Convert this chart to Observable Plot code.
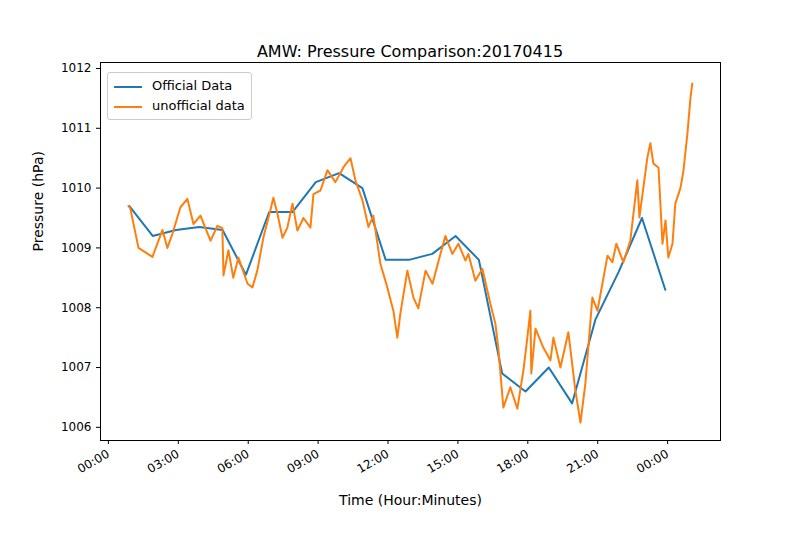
<!DOCTYPE html>
<html><head><meta charset="utf-8">
<script src="https://cdn.jsdelivr.net/npm/d3@7"></script>
<script src="https://cdn.jsdelivr.net/npm/@observablehq/plot@0.6"></script>
<style>
body{margin:0;background:#fff;font-family:"DejaVu Sans",sans-serif}
#wrap{position:relative;width:800px;height:550px}
#title{position:absolute;top:42px;left:100px;width:620px;text-align:center;font-size:16px}
#legend{position:absolute;left:107px;top:72px;border:1px solid #ccc;border-radius:3px;padding:3px 6px;font-size:13px;background:#fff;line-height:20px}
#legend span{display:inline-block;width:28px;height:2px;vertical-align:middle;margin-right:10px}
</style></head><body>
<div id="wrap"><div id="chart"></div><div id="title">AMW: Pressure Comparison:20170415</div>
<div id="legend"><div><span style="background:#1f77b4"></span>Official Data</div><div><span style="background:#ff7f0e"></span>unofficial data</div></div></div>
<script>
// official hourly readings, hours since midnight
const officialHours = [0.9,1.9,2.9,3.9,4.9,5.9,6.9,7.9,8.9,9.9,10.9,11.9,12.9,13.9,14.9,15.9,16.9,17.9,18.9,19.9,20.9,21.9,22.9,23.9];
const officialValues = [1009.7,1009.2,1009.3,1009.35,1009.3,1008.55,1009.6,1009.6,1010.1,1010.25,1010.0,1008.8,1008.8,1008.9,1009.2,1008.8,1006.9,1006.6,1007.0,1006.4,1007.8,1008.6,1009.5,1008.3];
// unofficial station trace
const unofficialHours = [0.86,0.94,1.29,1.89,2.32,2.53,2.75,3.09,3.39,3.65,3.95,4.38,4.68,4.89,4.94,5.15,5.36,5.58,5.97,6.18,6.39,6.65,6.95,7.08,7.25,7.47,7.68,7.9,8.11,8.37,8.67,8.8,9.1,9.4,9.74,10.09,10.39,10.6,10.9,11.16,11.37,11.67,11.97,12.23,12.4,12.53,12.83,13.09,13.3,13.61,13.91,14.25,14.46,14.76,15.02,15.32,15.45,15.75,16.05,16.39,16.61,16.74,16.95,17.25,17.55,17.81,17.98,18.11,18.15,18.33,18.67,18.97,19.1,19.4,19.74,20.04,20.26,20.47,20.77,20.99,21.42,21.63,21.8,22.1,22.4,22.7,22.79,23.13,23.26,23.39,23.61,23.78,23.91,24.03,24.21,24.33,24.55,24.68,24.85,24.98,25.06];
const unofficialValues = [1009.7,1009.66,1009.0,1008.85,1009.3,1009.0,1009.24,1009.68,1009.82,1009.4,1009.54,1009.12,1009.37,1009.33,1008.54,1008.96,1008.5,1008.84,1008.4,1008.34,1008.62,1009.17,1009.63,1009.84,1009.58,1009.17,1009.34,1009.74,1009.29,1009.5,1009.34,1009.9,1009.96,1010.3,1010.1,1010.35,1010.5,1010.13,1009.8,1009.35,1009.54,1008.74,1008.34,1007.95,1007.5,1007.9,1008.62,1008.17,1007.99,1008.62,1008.4,1008.9,1009.2,1008.9,1009.07,1008.79,1008.9,1008.45,1008.65,1008.07,1007.73,1007.3,1006.33,1006.67,1006.31,1006.95,1007.5,1007.95,1006.9,1007.65,1007.33,1007.12,1007.5,1007.0,1007.59,1006.62,1006.08,1006.73,1008.17,1007.95,1008.87,1008.76,1009.07,1008.76,1009.12,1010.13,1009.51,1010.51,1010.75,1010.41,1010.34,1009.07,1009.46,1008.84,1009.07,1009.74,1010.0,1010.29,1010.91,1011.51,1011.75];
const yTicks = [1006,1007,1008,1009,1010,1011,1012];

const base = new Date(2017, 3, 15);
const at = (h) => new Date(base.getTime() + h * 3600e3);
const official = officialHours.map((h, i) => ({t: at(h), v: officialValues[i]}));
const unofficial = unofficialHours.map((h, i) => ({t: at(h), v: unofficialValues[i]}));
const xTicks = d3.range(0, 25, 3).map(at);

const fig = Plot.plot({
  width: 800, height: 550,
  marginLeft: 100, marginRight: 80, marginTop: 62, marginBottom: 110,
  style: {fontFamily: "DejaVu Sans", fontSize: "12px", color: "#000"},
  x: {type: "time", domain: [at(-0.34), at(26.27)], ticks: xTicks, tickFormat: d3.timeFormat("%H:%M"), tickRotate: -30, tickSize: 4, label: null},
  y: {domain: [1005.78, 1012.1], ticks: yTicks, tickFormat: d => String(d), tickSize: 4, label: null},
  marks: [
    Plot.frame({stroke: "#000"}),
    Plot.line(official, {x: "t", y: "v", stroke: "#1f77b4", strokeWidth: 2}),
    Plot.line(unofficial, {x: "t", y: "v", stroke: "#ff7f0e", strokeWidth: 2}),
    Plot.text(["Time (Hour:Minutes)"], {frameAnchor: "bottom", dy: 64, fontSize: 14}),
    Plot.text(["Pressure (hPa)"], {frameAnchor: "left", dx: -62, rotate: -90, fontSize: 14})
  ]
});
document.getElementById("chart").appendChild(fig);
</script></body></html>
